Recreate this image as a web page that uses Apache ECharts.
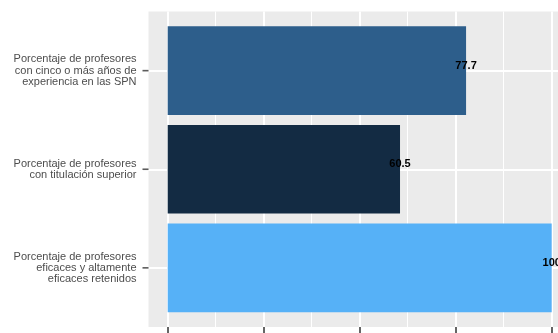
<!DOCTYPE html>
<html><head><meta charset="utf-8">
<script src="https://cdn.jsdelivr.net/npm/echarts@6/dist/echarts.min.js"></script>
<style>html,body{margin:0;padding:0;background:#fff}#c{width:558px;height:333px}</style>
</head><body><div id="c"></div>
<script>
const categories = [
  "Porcentaje de profesores\ncon cinco o más años de\nexperiencia en las SPN",
  "Porcentaje de profesores\ncon titulación superior",
  "Porcentaje de profesores\neficaces y altamente\neficaces retenidos"
];
const values = [77.7, 60.5, 100];
const barColors = ['#2D5E8B', '#132B43', '#56B1F7'];
const xMin = 0, xMax = 100, xInterval = 25;
const xPanelMin = -5, xPanelMax = 105;
const gridLinePositions = [0.6, 1.6, 2.6];

const FONT = 'Liberation Sans, Arial, sans-serif';
const panelTop = 11.5, panelH = 315.5, panelLeft = 148.5, panelW = 422.4;
const dataLeft = 167.7, dataW = 384;
const band = panelH / 3.2;

const chart = echarts.init(document.getElementById('c'));
chart.setOption({
  animation: false,
  grid: [
    {left: panelLeft, top: panelTop, width: panelW, height: panelH, show: true, backgroundColor: '#EBEBEB', borderWidth: 0, containLabel: false, outerBoundsMode: 'none'},
    {left: dataLeft, top: panelTop, width: dataW, height: panelH, show: false, containLabel: false, outerBoundsMode: 'none'},
    {left: panelLeft, top: panelTop + 0.1 * band, width: panelW, height: 3 * band, show: false, containLabel: false, outerBoundsMode: 'none'}
  ],
  xAxis: [
    {gridIndex: 0, type: 'value', min: xPanelMin, max: xPanelMax, show: false},
    {gridIndex: 1, type: 'value', min: xMin, max: xMax, interval: xInterval, position: 'bottom',
      axisLine: {show: true, lineStyle: {color: 'rgba(0,0,0,0)', width: 0}},
      axisTick: {show: true, length: 6, lineStyle: {color: '#333333', width: 1.5}},
      axisLabel: {show: true, color: '#4D4D4D', fontSize: 11, fontFamily: FONT, margin: 10},
      splitLine: {show: true, lineStyle: {color: '#FFFFFF', width: 2}},
      minorTick: {show: false, splitNumber: 2},
      minorSplitLine: {show: true, lineStyle: {color: '#FFFFFF', width: 1}}
    },
    {gridIndex: 2, type: 'value', min: xPanelMin, max: xPanelMax, show: false}
  ],
  yAxis: [
    {gridIndex: 0, type: 'value', min: 0, max: 3.2, inverse: true, show: false},
    {gridIndex: 1, type: 'value', min: 0, max: 1, show: false},
    {gridIndex: 2, type: 'category', data: categories, inverse: true,
      axisLine: {show: false},
      axisTick: {show: false},
      axisLabel: {color: '#4D4D4D', fontSize: 11, fontFamily: FONT, lineHeight: 11.3, margin: 12, align: 'right'},
      splitLine: {show: false}
    }
  ],
  series: [
    {type: 'line', xAxisIndex: 0, yAxisIndex: 0, data: [], silent: true,
      markLine: {z: 1, silent: true, symbol: 'none', animation: false,
        label: {show: false},
        lineStyle: {color: '#FFFFFF', width: 2, type: 'solid'},
        emphasis: {disabled: true},
        data: gridLinePositions.map(v => ({yAxis: v}))
      }
    },
    {type: 'bar', xAxisIndex: 2, yAxisIndex: 2, z: 3, barWidth: '90%',
      data: values.map((v, i) => ({value: v, itemStyle: {color: barColors[i]}})),
      label: {show: true, position: 'right', distance: 0, align: 'center', offset: [0, -5],
        color: '#000', fontWeight: 'bold', fontSize: 11, fontFamily: FONT,
        formatter: p => String(p.value)}
    },
    {type: 'scatter', xAxisIndex: 2, yAxisIndex: 2, z: 4, clip: false, silent: true,
      symbol: 'rect', symbolSize: [6, 1.6], symbolOffset: [-3, 0],
      itemStyle: {color: '#333333'},
      data: categories.map(c => [xPanelMin, c])
    }
  ]
});
</script></body></html>
